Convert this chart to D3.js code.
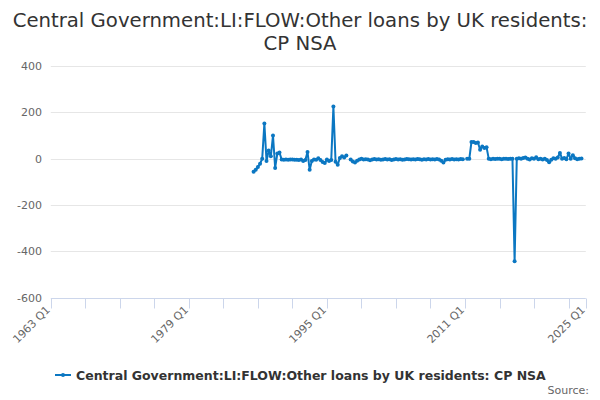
<!DOCTYPE html>
<html><head><meta charset="utf-8">
<script src="https://cdn.jsdelivr.net/npm/d3@7"></script>
<style>body{margin:0;background:#fff}svg{display:block;font-family:"DejaVu Sans",sans-serif}</style>
</head><body><svg id="c" width="600" height="400"></svg>
<script>
const titleLines = ["Central Government:LI:FLOW:Other loans by UK residents:", "CP NSA"];
const seriesName = "Central Government:LI:FLOW:Other loans by UK residents: CP NSA";
const firstPeriod = {year: 1986, quarter: 3};
// quarterly values (£m), null = missing
const values = [
  -56, -48,                 // 1986
  -36, -22, 0, 152,         // 1987
  -10, 35, 10, 100,         // 1988
  -40, 22, 27, -3,          // 1989
  -5, -4, -5, -4,           // 1990
  -4, -5, -5, -6,           // 1991
  -3, -10, -6, 29,          // 1992
  -48, -10, -4, -5,         // 1993
  2, -6, -14, -19,          // 1994
  -4, -10, -6, 225,         // 1995
  -13, -26, 3, 10,          // 1996
  5, 14, null, -4,          // 1997
  -12, -16, -9, -4,         // 1998
  0, -3, -2, -4,            // 1999
  -7, -3, -1, -4,           // 2000
  -2, -5, -3, -1,           // 2001
  -4, -2, -6, -3,           // 2002
  -1, -3, -2, -5,           // 2003
  -3, -1, -2, -4,           // 2004
  -2, -3, -1, -2,           // 2005
  -5, -2, -3, -1,           // 2006
  -3, -2, -4, -1,           // 2007
  -4, -9, -16, -5,          // 2008
  -2, -3, -1, -4,           // 2009
  -2, -3, -1, -2,           // 2010
  null, 0, 0, 72,           // 2011
  72, 68, 70, 39,           // 2012
  53, 46, 49, 0,            // 2013
  -2, 0, -1, 0,             // 2014
  0, -2, 0, 0,              // 2015
  -1, 0, 0, -443,           // 2016
  0, 2, 0, 3,               // 2017
  5, 0, -3, 2,              // 2018
  0, 6, -2, 0,              // 2019
  -3, 0, -6, -15,           // 2020
  -5, 2, 0, 5,              // 2021
  25, 0, 3, -2,             // 2022
  22, 0, 15, 2,             // 2023
  -2, 0, 1                  // 2024
];
const yTicks = [400, 200, 0, -200, -400, -600];
const xTickYears = [1963,1967,1971,1975,1979,1983,1987,1991,1995,1999,2003,2007,2011,2015,2019,2023,2025];
const xLabelYears = [1963, 1979, 1995, 2011, 2025];
const xLabels = ["1963 Q1", "1979 Q1", "1995 Q1", "2011 Q1", "2025 Q1"];

const color = "#0b77c2";
const svg = d3.select("#c");
const x = d3.scaleLinear().domain([1963, 2025]).range([50.8, 585.8]);
const y = d3.scaleLinear().domain([-600, 400]).range([297.7, 66]);

const data = values.map((v, i) => {
  const q = firstPeriod.quarter - 1 + i;
  return {t: firstPeriod.year + Math.floor(q / 4) + (q % 4) / 4, v: v};
});

// title
svg.append("text").attr("x", 300).attr("text-anchor", "middle")
  .attr("font-size", 19.7).attr("fill", "#333")
  .selectAll("tspan").data(titleLines).join("tspan")
  .attr("x", 300).attr("y", (d, i) => 27 + i * 23).text(d => d);

// grid + y labels
const gy = svg.append("g");
gy.selectAll("line").data(yTicks.filter(d => d !== -600)).join("line")
  .attr("x1", x.range()[0]).attr("x2", x.range()[1])
  .attr("y1", d => Math.round(y(d)) + 0.5).attr("y2", d => Math.round(y(d)) + 0.5)
  .attr("stroke", "#e6e6e6");
gy.selectAll("text").data(yTicks).join("text")
  .attr("x", 42).attr("y", d => y(d) + 4).attr("text-anchor", "end")
  .attr("font-size", 11).attr("fill", "#666").text(d => d);

// x axis
const ax = svg.append("g");
const axY = Math.round(y(-600)) + 0.5;
ax.append("line").attr("x1", x.range()[0]).attr("x2", x.range()[1])
  .attr("y1", axY).attr("y2", axY).attr("stroke", "#ccd6eb");
ax.selectAll("line.t").data(xTickYears).join("line").attr("class", "t")
  .attr("x1", d => Math.round(x(d)) + 0.5).attr("x2", d => Math.round(x(d)) + 0.5)
  .attr("y1", axY).attr("y2", axY + 10).attr("stroke", "#ccd6eb");
ax.selectAll("text").data(xLabelYears).join("text")
  .attr("transform", d => `translate(${x(d)},${axY + 12}) rotate(-45)`)
  .attr("text-anchor", "end").attr("font-size", 11).attr("fill", "#666")
  .text((d, i) => xLabels[i]);

// series
const line = d3.line().defined(d => d.v !== null).x(d => x(d.t)).y(d => y(d.v));
svg.append("path").datum(data).attr("d", line).attr("fill", "none")
  .attr("stroke", color).attr("stroke-width", 2).attr("stroke-linejoin", "round");
svg.append("g").selectAll("circle").data(data.filter(d => d.v !== null)).join("circle")
  .attr("cx", d => x(d.t)).attr("cy", d => y(d.v)).attr("r", 2).attr("fill", color);

// legend
const lg = svg.append("g");
lg.append("line").attr("x1", 55).attr("x2", 71).attr("y1", 375).attr("y2", 375)
  .attr("stroke", color).attr("stroke-width", 2);
lg.append("circle").attr("cx", 63).attr("cy", 375).attr("r", 2).attr("fill", color);
lg.append("text").attr("x", 76).attr("y", 379.5).attr("font-size", 12.5)
  .attr("font-weight", "bold").attr("fill", "#333").text(seriesName);

svg.append("text").attr("x", 589).attr("y", 394).attr("text-anchor", "end")
  .attr("font-size", 11).attr("fill", "#666").text("Source:");
</script></body></html>
